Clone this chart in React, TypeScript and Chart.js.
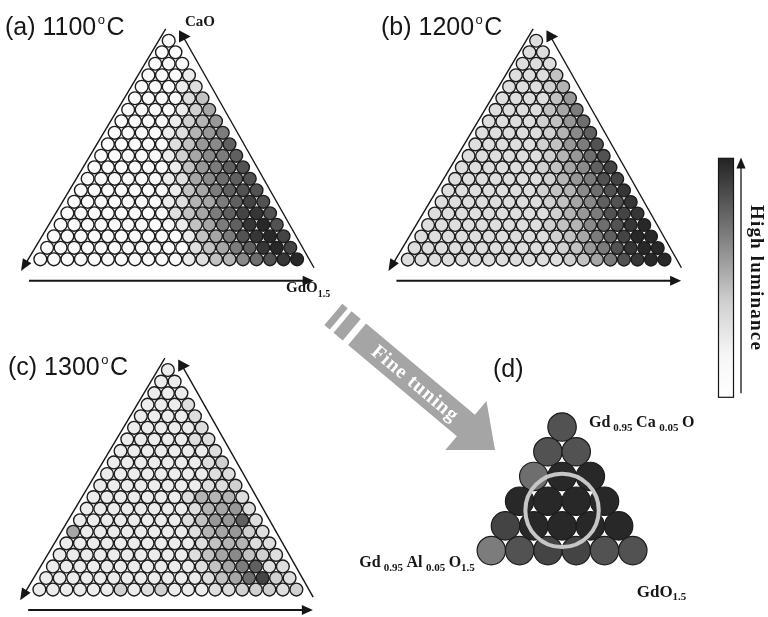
import React, { useEffect, useRef } from "react";
import { Chart, registerables } from "chart.js";

Chart.register(...registerables);

const W = 768;
const H = 617;
const SQ3 = Math.sqrt(3) / 2;

// Luminance level of every composition cell (hex digit, 0 = none, f = brightest),
// one string per row from the CaO apex down, left (AlO1.5 side) to right (GdO1.5 side).
const lum1100: string[] = [
  "0",
  "00",
  "000",
  "0001",
  "00012",
  "000024",
  "0000136",
  "00001357",
  "000012579",
  "000002478b",
  "0000013689b",
  "0000001479bc",
  "0000001268abc",
  "00000001469bcc",
  "000000012569bdc",
  "000000002469bdec",
  "0000000001469befc",
  "00000000001469cefd",
  "000000000002469befd",
  "0000000000012458acef",
];

const lum1200: string[] = [
  "2",
  "22",
  "222",
  "2224",
  "22235",
  "222247",
  "2222469",
  "2222347a",
  "22222358b",
  "222223479c",
  "222222357ac",
  "2222223468bd",
  "22222223579cd",
  "22222223458ace",
  "222222223468bce",
  "2222222223579cde",
  "2222222223458acef",
  "22222222223469bdff",
  "222222222223479ceff",
  "2222222222223469ceff",
];

const lum1300: string[] = [
  "1",
  "11",
  "111",
  "1112",
  "11112",
  "111112",
  "1111122",
  "11111112",
  "111111123",
  "1111111122",
  "11111111223",
  "111111125552",
  "1111111125672",
  "111111112477b2",
  "611111111256732",
  "1111111111245522",
  "11111111112468432",
  "111111111112469b22",
  "111111111111246ad32",
  "11111131231112233323",
];

// Fine-tuned region around Gd0.95Ca0.05O / Gd0.95Al0.05O1.5 / GdO1.5
const lumFine: string[] = ["c", "cc", "aff", "ffff", "dffff", "9cddcc"];

const panelTitles: string[] = ["(a) 1100", "(b) 1200", "(c) 1300"];
const fineTitle = "(d)";
const arrowCaption = "Fine tuning";
const barCaption = "High luminance";

// Pixel frame of each composition grid: centres of the two bottom corner cells,
// the bottom row and the apex cell.
type Frame = { left: number; right: number; bottom: number; top: number };
const FRAMES: Record<string, Frame> = {
  a: { left: 26.0, right: 293.4, bottom: 256.7, top: 26.7 },
  b: { left: 408.8, right: 676.2, bottom: 257.0, top: 26.7 },
  c: { left: 25.0, right: 292.7, bottom: 604.3, top: 373.3 },
  d: { left: 495.8, right: 643.2, bottom: 563.3, top: 433.3 },
};

const INK = "#161616";
const SERIF = "'Liberation Serif', 'Times New Roman', serif";
const SANS = "'Liberation Sans', Arial, sans-serif";

function axisPair(id: string, f: Frame) {
  const span = f.right - f.left;
  const xmin = -f.left / span;
  const xrange = W / span;
  const yrange = (SQ3 * H) / (f.bottom - f.top);
  const ymax = (f.bottom * yrange) / H;
  return {
    ["x" + id]: { type: "linear", display: false, bounds: "data", min: xmin, max: xmin + xrange },
    ["y" + id]: { type: "linear", display: false, bounds: "data", min: ymax - yrange, max: ymax },
  };
}

function shade(level: number) {
  const g = Math.round(250 - level * 14);
  return `rgb(${g},${g},${g})`;
}

// Ternary grid: top fraction -> height, right fraction -> x offset
function grid(levels: string[]) {
  const N = levels.length - 1;
  const points: { x: number; y: number }[] = [];
  const colors: string[] = [];
  levels.forEach((row, i) => {
    for (let k = 0; k <= i; k++) {
      const top = (N - i) / N;
      const right = k / N;
      points.push({ x: right + top / 2, y: top * SQ3 });
      colors.push(shade(parseInt(row[k] || "0", 16)));
    }
  });
  return { points, colors };
}

type Run = { t: string; size: number; dy?: number; gap?: number };
function drawRuns(ctx: CanvasRenderingContext2D, x: number, y: number, runs: Run[]) {
  let cx = x;
  for (const r of runs) {
    cx += r.gap ?? 0;
    ctx.font = `bold ${r.size}px ${SERIF}`;
    ctx.fillText(r.t, cx, y + (r.dy ?? 0));
    cx += ctx.measureText(r.t).width;
  }
}

function arrowHead(
  ctx: CanvasRenderingContext2D,
  tx: number,
  ty: number,
  dx: number,
  dy: number,
  len: number,
  half: number
) {
  const l = Math.hypot(dx, dy);
  const ux = dx / l;
  const uy = dy / l;
  const bx = tx - ux * len;
  const by = ty - uy * len;
  ctx.beginPath();
  ctx.moveTo(tx, ty);
  ctx.lineTo(bx - uy * half, by + ux * half);
  ctx.lineTo(bx + uy * half, by - ux * half);
  ctx.closePath();
  ctx.fill();
}

function seg(ctx: CanvasRenderingContext2D, x1: number, y1: number, x2: number, y2: number) {
  ctx.beginPath();
  ctx.moveTo(x1, y1);
  ctx.lineTo(x2, y2);
  ctx.stroke();
}

function drawFrame(ctx: CanvasRenderingContext2D, chart: any, id: string) {
  const ax = chart.scales["x" + id].getPixelForValue(0.5);
  const ay = chart.scales["y" + id].getPixelForValue(SQ3);
  ctx.strokeStyle = INK;
  ctx.fillStyle = INK;
  ctx.lineWidth = 1.4;
  // left edge, pointing to the AlO1.5 corner
  seg(ctx, ax - 3, ay - 12, ax - 145, ay + 226);
  arrowHead(ctx, ax - 147.7, ay + 230.3, -144.7, 242.3, 12, 5);
  // right edge with the CaO pointer
  seg(ctx, ax + 13.3, ay - 6, ax + 145.3, ay + 227);
  ctx.beginPath();
  ctx.moveTo(ax + 10.3, ay - 10.5);
  ctx.lineTo(ax + 10.3, ay + 1.8);
  ctx.lineTo(ax + 22, ay - 4.3);
  ctx.closePath();
  ctx.fill();
  // base, pointing to GdO1.5
  ctx.lineWidth = 2;
  seg(ctx, ax - 139.7, ay + 240, ax + 137, ay + 240);
  arrowHead(ctx, ax + 145, ay + 240, 1, 0, 11, 5);
}

function drawTitle(ctx: CanvasRenderingContext2D, x: number, y: number, head: string, degree: boolean) {
  ctx.fillStyle = INK;
  ctx.font = `25px ${SANS}`;
  ctx.fillText(head, x, y);
  if (!degree) return;
  let cx = x + ctx.measureText(head).width + 1.5;
  ctx.font = `13px ${SANS}`;
  ctx.fillText("o", cx, y - 11.5);
  cx += ctx.measureText("o").width + 1.5;
  ctx.font = `25px ${SANS}`;
  ctx.fillText("C", cx, y);
}

const decor = {
  id: "decor",
  afterDatasetsDraw(chart: any) {
    const ctx: CanvasRenderingContext2D = chart.ctx;
    ctx.save();
    ctx.textAlign = "left";
    ctx.textBaseline = "alphabetic";

    ["a", "b", "c"].forEach((id) => drawFrame(ctx, chart, id));

    drawTitle(ctx, 5, 35, panelTitles[0], true);
    drawTitle(ctx, 381, 35, panelTitles[1], true);
    drawTitle(ctx, 8, 375, panelTitles[2], true);
    drawTitle(ctx, 493, 377, fineTitle, false);

    ctx.fillStyle = INK;
    drawRuns(ctx, 185, 26, [{ t: "CaO", size: 15 }]);
    drawRuns(ctx, 286, 292, [
      { t: "GdO", size: 15 },
      { t: "1.5", size: 10, dy: 5 },
    ]);
    drawRuns(ctx, 589, 426.7, [
      { t: "Gd", size: 16 },
      { t: "0.95", size: 11, dy: 4, gap: 3 },
      { t: "Ca", size: 16, gap: 3.5 },
      { t: "0.05", size: 11, dy: 4, gap: 3.5 },
      { t: "O", size: 16, gap: 3.5 },
    ]);
    drawRuns(ctx, 359.3, 567.3, [
      { t: "Gd", size: 16 },
      { t: "0.95", size: 11, dy: 4, gap: 3 },
      { t: "Al", size: 16, gap: 3.5 },
      { t: "0.05", size: 11, dy: 4, gap: 3.5 },
      { t: "O", size: 16, gap: 3.5 },
      { t: "1.5", size: 11, dy: 4 },
    ]);
    drawRuns(ctx, 636.7, 596.7, [
      { t: "GdO", size: 17 },
      { t: "1.5", size: 11, dy: 3 },
    ]);

    // highlighted optimum in (d): ring around the equal-fraction centre
    const cx = chart.scales.xd.getPixelForValue(0.5);
    const cy = chart.scales.yd.getPixelForValue(SQ3 / 3);
    ctx.strokeStyle = "#c6c6c6";
    ctx.lineWidth = 4;
    ctx.beginPath();
    ctx.arc(cx, cy + 1, 36.7, 0, Math.PI * 2);
    ctx.stroke();

    // "Fine tuning" arrow
    ctx.save();
    ctx.translate(495, 450);
    ctx.rotate((40 * Math.PI) / 180);
    ctx.fillStyle = "#a5a5a5";
    ctx.beginPath();
    ctx.moveTo(0, 0);
    ctx.lineTo(-38, 32);
    ctx.lineTo(-38, 14);
    ctx.lineTo(-180, 14);
    ctx.lineTo(-180, -14);
    ctx.lineTo(-38, -14);
    ctx.lineTo(-38, -32);
    ctx.closePath();
    ctx.fill();
    ctx.fillRect(-199, -14, 12, 28);
    ctx.fillRect(-211, -14, 7, 28);
    ctx.fillStyle = "#ffffff";
    ctx.font = `bold 20px ${SERIF}`;
    ctx.textAlign = "center";
    ctx.textBaseline = "middle";
    (ctx as any).letterSpacing = "0.8px";
    ctx.fillText(arrowCaption, -104, 1);
    ctx.restore();

    // luminance bar
    const bx = 718.5;
    const by = 158.3;
    const bw = 15;
    const bh = 239;
    const grad = ctx.createLinearGradient(0, by, 0, by + bh);
    grad.addColorStop(0, "#232323");
    grad.addColorStop(0.35, "#858585");
    grad.addColorStop(0.6, "#cfcfcf");
    grad.addColorStop(0.82, "#f6f6f6");
    grad.addColorStop(1, "#ffffff");
    ctx.fillStyle = grad;
    ctx.fillRect(bx, by, bw, bh);
    ctx.strokeStyle = INK;
    ctx.lineWidth = 1.2;
    ctx.strokeRect(bx, by, bw, bh);

    ctx.lineWidth = 1.3;
    seg(ctx, 741, 393.3, 741, 166);
    ctx.fillStyle = INK;
    arrowHead(ctx, 741, 157.5, 0, -1, 11, 4.6);

    ctx.save();
    ctx.translate(756, 278);
    ctx.rotate(Math.PI / 2);
    ctx.font = `bold 19px ${SERIF}`;
    ctx.textAlign = "center";
    ctx.textBaseline = "middle";
    (ctx as any).letterSpacing = "1.2px";
    ctx.fillStyle = INK;
    ctx.fillText(barCaption, 0, 0);
    ctx.restore();

    ctx.restore();
  },
};

export default function App() {
  const ref = useRef<HTMLCanvasElement | null>(null);

  useEffect(() => {
    if (!ref.current) return;
    const panels = [
      { id: "a", levels: lum1100, r: 6.4, bw: 1.4 },
      { id: "b", levels: lum1200, r: 6.4, bw: 1.4 },
      { id: "c", levels: lum1300, r: 6.4, bw: 1.4 },
      { id: "d", levels: lumFine, r: 14.2, bw: 1.2 },
    ];
    let scales: Record<string, any> = {};
    const datasets = panels.map((p) => {
      scales = { ...scales, ...axisPair(p.id, FRAMES[p.id]) };
      const g = grid(p.levels);
      return {
        label: p.id,
        data: g.points,
        xAxisID: "x" + p.id,
        yAxisID: "y" + p.id,
        pointRadius: g.points.map(() => p.r),
        pointBorderWidth: p.bw,
        pointBorderColor: "#1c1c1c",
        pointBackgroundColor: g.colors,
        showLine: false,
      };
    });

    const chart = new Chart(ref.current, {
      type: "scatter",
      data: { datasets } as any,
      options: {
        responsive: false,
        maintainAspectRatio: false,
        animation: false,
        events: [],
        layout: { padding: 0 },
        plugins: { legend: { display: false }, tooltip: { enabled: false } },
        scales: scales as any,
      },
      plugins: [decor],
    });
    return () => chart.destroy();
  }, []);

  return (
    <div style={{ position: "absolute", left: 0, top: 0, width: W, height: H, background: "#fff" }}>
      <canvas ref={ref} width={W} height={H} style={{ display: "block" }} />
    </div>
  );
}
